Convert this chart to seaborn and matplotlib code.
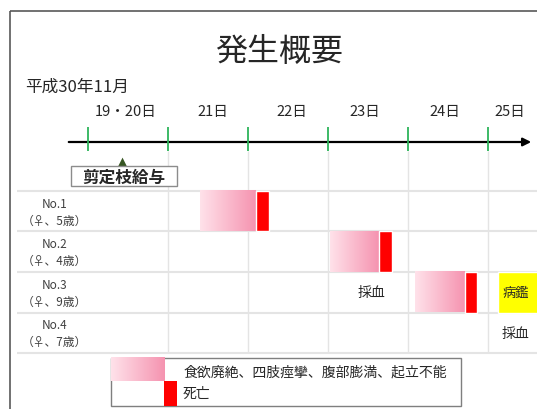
import numpy as np
import matplotlib
matplotlib.use("Agg")
import matplotlib.pyplot as plt
from matplotlib.patches import Rectangle
from matplotlib.colors import LinearSegmentedColormap
import seaborn as sns

# Data (x in day columns: 0 = 19・20日, 1 = 21日, ... 5 = 25日; y = row index)
day_labels = ["19・20日", "21日", "22日", "23日", "24日", "25日"]
cow_ids = ["No.1", "No.2", "No.3", "No.4"]
cow_info = ["（♀、5歳）", "（♀、4歳）", "（♀、9歳）", "（♀、7歳）"]
sick_rows = [0, 1, 2]
onset = [1.40, 3.03, 4.09]    # 食欲廃絶 etc. starts
death = [2.10, 3.64, 4.71]    # 死亡
feed_day = 0.43               # 剪定枝給与
blood_rows = [2, 3]
blood_day = [3.54, 5.35]      # 採血
necropsy_row = 2
necropsy_start, necropsy_end = 5.13, 5.64   # 病鑑
legend_labels = ["食欲廃絶、四肢痙攣、腹部膨満、起立不能", "死亡"]

# Layout: pixel <-> data mapping
W, H = 537, 410
X0, XS = 88.15, 79.94
Y0, YS = 192, 40.5
def cx(px): return (px - X0) / XS
def ry(py): return (py - Y0) / YS

DEATH_W = 0.16
pink = LinearSegmentedColormap.from_list("pink", ["#ffe2ea", "#f593b0"])
grad = np.linspace(0, 1, 256).reshape(1, -1)

sns.set_theme(style="white")
plt.rcParams["font.family"] = ["Noto Sans CJK JP", "DejaVu Sans"]

fig = plt.figure(figsize=(W / 100, H / 100), dpi=100)
ax = fig.add_axes([0, 0, 1, 1])
ax.axis("off")

# outer frame
ax.add_patch(Rectangle((cx(10), ry(12)), cx(600) - cx(10), ry(460) - ry(12),
                       fill=False, ec="#595959", lw=1.2, zorder=1))

ax.text(cx(279), ry(52), "発生概要", fontsize=23, ha="center", va="center")
ax.text(cx(25), ry(87), "平成30年11月", fontsize=12, ha="left", va="center")

# timeline
ax.annotate("", xy=(cx(534), ry(143)), xytext=(cx(66), ry(143)),
            arrowprops=dict(arrowstyle="-|>", color="black", lw=1.6, mutation_scale=12))
ax.vlines(range(len(day_labels)), ry(128), ry(152), color="#2db45a", lw=1.3, zorder=3)
date_px = [126, 213, 292, 365, 445, 510]
for lab, px in zip(day_labels, date_px):
    ax.text(cx(px), ry(112), lab, fontsize=10.5, ha="center", va="center")

# table grid
ax.vlines(range(1, len(day_labels)), ry(152), len(cow_ids), color="#e4e4e4", lw=1.0, zorder=0)
ax.hlines(range(len(cow_ids) + 1), cx(17), cx(W), color="#e4e4e4", lw=1.5, zorder=0)

# feeding event
sns.scatterplot(x=[feed_day], y=[ry(164)], marker="^", s=60, color="#375623",
                edgecolor="none", ax=ax, legend=False, zorder=4)
ax.add_patch(Rectangle((cx(71), ry(167)), cx(177) - cx(71), ry(187) - ry(167),
                       fc="white", ec="#8c8c8c", lw=1.0, zorder=4))
ax.text(cx(124), ry(177.5), "剪定枝給与", fontsize=12, fontweight="bold",
        ha="center", va="center", zorder=5)

# row labels
for i, (cid, info) in enumerate(zip(cow_ids, cow_info)):
    ax.text(cx(55), i + 0.30, cid, fontsize=8.5, color="#404040", ha="center", va="center")
    ax.text(cx(54), i + 0.72, info, fontsize=8.5, color="#404040", ha="center", va="center")

# symptom bars and death marks
for r, o, d in zip(sick_rows, onset, death):
    ax.imshow(grad, extent=[o, d, r + 1, r], aspect="auto", cmap=pink,
              interpolation="bilinear", zorder=2)
ax.barh(sick_rows, DEATH_W, left=death, height=1, align="edge", color="#ff0000", zorder=3)

# necropsy and blood sampling
ax.barh([necropsy_row], necropsy_end - necropsy_start, left=necropsy_start, height=1,
        align="edge", color="#ffff00", zorder=2)
ax.text(5.35, necropsy_row + 0.5, "病鑑",
        fontsize=9.5, ha="center", va="center", zorder=3)
for r, d in zip(blood_rows, blood_day):
    ax.text(d, r + 0.5, "採血", fontsize=10, ha="center", va="center")

# legend
ax.add_patch(Rectangle((cx(111), ry(359)), cx(461) - cx(111), ry(407) - ry(359),
                       fc="white", ec="#7f7f7f", lw=1.0, zorder=4))
ax.imshow(grad, extent=[cx(111), cx(164), ry(382), ry(359)], aspect="auto", cmap=pink,
          interpolation="bilinear", zorder=5)
ax.add_patch(Rectangle((cx(164), ry(382)), DEATH_W, ry(407) - ry(382),
                       fc="#ff0000", ec="none", zorder=5))
ax.text(cx(183), ry(373), legend_labels[0], fontsize=10, ha="left", va="center", zorder=6)
ax.text(cx(183), ry(394), legend_labels[1], fontsize=10, ha="left", va="center", zorder=6)

ax.set_xlim(cx(0), cx(W))
ax.set_ylim(ry(H), ry(0))

fig.savefig("out.png", dpi=100, facecolor="white")
